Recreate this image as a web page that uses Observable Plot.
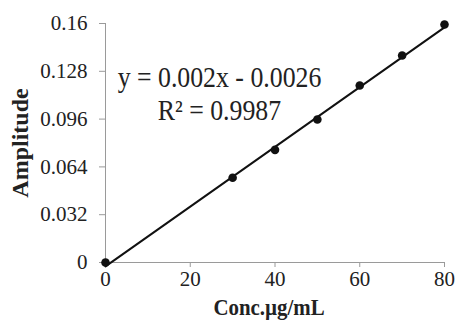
<!DOCTYPE html>
<html>
<head>
<meta charset="utf-8">
<script src="https://cdn.jsdelivr.net/npm/d3@7"></script>
<script src="https://cdn.jsdelivr.net/npm/@observablehq/plot@0.6"></script>
<style>
  html, body { margin: 0; padding: 0; background: #fff; }
  #chart svg { display: block; }
</style>
</head>
<body>
<div id="chart"></div>
<script>
// Calibration data: concentration (µg/mL) vs. measured amplitude
const concentration = [0, 30, 40, 50, 60, 70, 80];
const amplitude = [0, 0.0567, 0.0754, 0.0957, 0.1185, 0.1386, 0.1593];

// Linear fit reported on the chart
const slope = 0.002;
const intercept = -0.0026;
const rSquared = 0.9987;

const xTicks = [0, 20, 40, 60, 80];
const yTicks = [0, 0.032, 0.064, 0.096, 0.128, 0.16];
const yTickLabels = ["0", "0.032", "0.064", "0.096", "0.128", "0.16"];

const xTitle = "Conc.µg/mL";
const yTitle = "Amplitude";
const equation = `y = ${slope}x - ${Math.abs(intercept)}\nR² = ${rSquared}`;

const points = concentration.map((x, i) => ({x, y: amplitude[i]}));
const fitEnds = [0, 80].map(x => ({x, y: slope * x + intercept}));

const serif = "Liberation Serif";
const axisGray = "#9a9a9a";

const chart = Plot.plot({
  width: 457,
  height: 329,
  marginLeft: 105,
  marginRight: 13,
  marginTop: 23,
  marginBottom: 67,
  style: {background: "#fff", color: "#222", fontFamily: serif},
  x: {domain: [0, 80]},
  y: {domain: [0, 0.16]},
  marks: [
    Plot.axisX({ticks: xTicks, tickSize: 5, tickPadding: 4, fontSize: 21, fontFamily: serif, stroke: axisGray, label: null, tickFormat: d => String(d)}),
    Plot.axisY({ticks: yTicks, tickSize: 6, tickPadding: 12, fontSize: 21, fontFamily: serif, stroke: axisGray, label: null,
      tickFormat: d => yTickLabels[yTicks.indexOf(d)]}),
    Plot.ruleX([0], {stroke: axisGray, strokeWidth: 1}),
    Plot.ruleY([0], {stroke: axisGray, strokeWidth: 1}),
    Plot.line(fitEnds, {x: "x", y: "y", stroke: "#111", strokeWidth: 2, clip: false}),
    Plot.dot(points, {x: "x", y: "y", r: 4.3, fill: "#111", stroke: "none"}),
    Plot.text([equation], {
      frameAnchor: "top-left", dx: 114, dy: 40, textAnchor: "middle", lineAnchor: "top",
      fontSize: 29, fontFamily: serif, lineHeight: 1.14, fill: "#222"
    }),
    Plot.text([yTitle], {
      frameAnchor: "left", dx: -85, rotate: -90, textAnchor: "middle",
      fontSize: 24, fontFamily: serif, fontWeight: "bold", fill: "#222"
    }),
    Plot.text([xTitle], {
      frameAnchor: "bottom", dx: -6, dy: 52, textAnchor: "middle",
      fontSize: 24, fontFamily: serif, fontWeight: "bold", fill: "#222"
    })
  ]
});

// Narrow the tall serif labels horizontally around their own anchor points
function condense(match, sx) {
  chart.querySelectorAll("text").forEach(el => {
    if (!el.textContent.includes(match)) return;
    const x = +el.getAttribute("x") || 0;
    const y = +el.getAttribute("y") || 0;
    const t = el.getAttribute("transform") || "";
    el.setAttribute("transform", `${t} translate(${x},${y}) scale(${sx},1) translate(${-x},${-y})`);
  });
}
condense("R²", 0.89);
condense("Conc.", 0.87);

document.getElementById("chart").append(chart);
</script>
</body>
</html>
